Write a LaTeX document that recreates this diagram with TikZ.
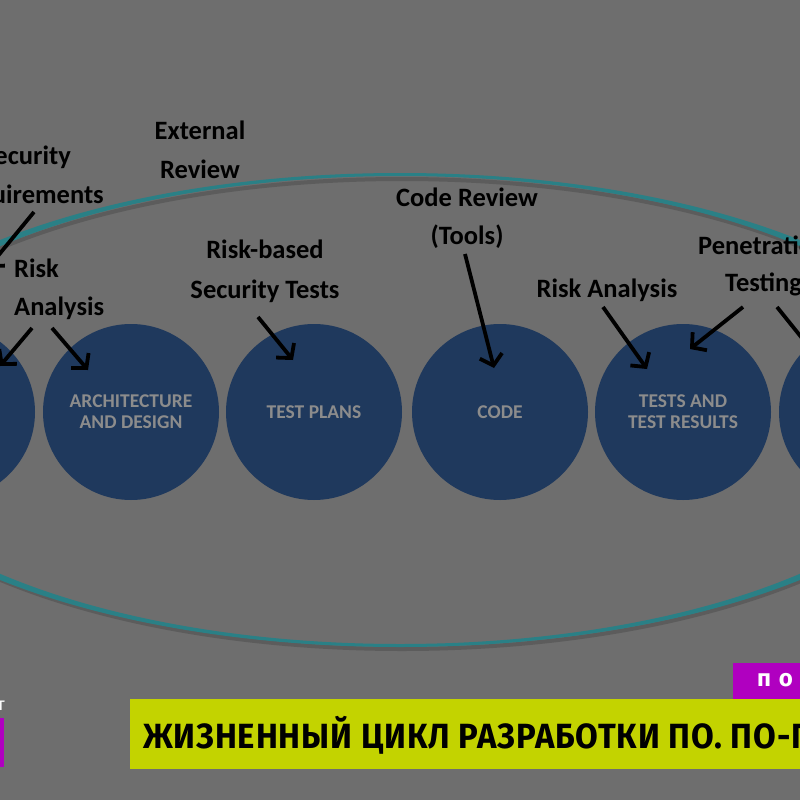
\documentclass[tikz,border=0pt]{standalone}
\usepackage{fontspec}
\setmainfont{Carlito}
\newfontfamily\bannerfont[FakeStretch=0.94,LetterSpace=2.5]{Fira Sans}
\newfontfamily\tagfont[LetterSpace=32]{Fira Sans}
\usetikzlibrary{arrows.meta}
\definecolor{bg}{RGB}{110,110,110}
\definecolor{circblue}{RGB}{31,57,93}
\definecolor{circtext}{RGB}{140,140,140}
\definecolor{teal}{RGB}{42,128,134}
\definecolor{shadowgray}{RGB}{80,80,80}
\definecolor{banneryellow}{RGB}{195,211,0}
\definecolor{tagmagenta}{RGB}{176,0,192}
\tikzset{
  circ/.style={circle, fill=circblue, minimum size=176pt, inner sep=0pt, align=center,
    text=circtext, font=\fontsize{19.5}{21}\selectfont\bfseries},
  lbl/.style={inner sep=0pt, text=black, font=\fontsize{26.5}{30}\selectfont\bfseries},
  arr/.style={line width=3.8pt, draw=black, -{Straight Barb[length=10pt,width=23pt]}},
}
\begin{document}
\begin{tikzpicture}[x=1pt,y=-1pt]
\useasboundingbox (0,0) rectangle (800,800);
\clip (0,0) rectangle (800,800);
\fill[bg] (0,0) rectangle (800,800);
% ellipse shadow and ring
\draw[shadowgray, line width=4pt, opacity=0.6] (402,414) ellipse [x radius=567, y radius=235];
\fill[teal, even odd rule] (400,410) ellipse [x radius=574, y radius=237]
                            (400,410) ellipse [x radius=560, y radius=234];
% circles
\node[circ] (c1) at (-53,412) {};
\node[circ] (c2) at (131,412) {ARCHITECTURE\\AND DESIGN};
\node[circ] (c3) at (314,412) {TEST PLANS};
\node[circ] (c4) at (500,412) {CODE};
\node[circ] (c5) at (683,412) {TESTS AND\\TEST RESULTS};
\node[circ] (c6) at (867,412) {};
% labels
\node[lbl] (ext1) at (200,130) {External};
\node[lbl] (ext2) at (200,169) {Review};
\node[lbl, anchor=east] (sec1) at (71,157) {Security};
\node[lbl, anchor=east] (sec2) at (104,196) {Requirements};
\node[lbl, anchor=west] (ra1) at (14,268) {Risk};
\node[lbl, anchor=west] (ra2) at (14,308) {Analysis};
\node[lbl] (rb1) at (265,249) {Risk-based};
\node[lbl] (rb2) at (265,291) {Security Tests};
\node[lbl] (cr1) at (467,197) {Code Review};
\node[lbl] (cr2) at (467,237) {(Tools)};
\node[lbl] (rar) at (607,290) {Risk Analysis};
\node[lbl, anchor=west] (pt1) at (698,245) {Penetration};
\node[lbl, anchor=west] (pt2) at (725,284) {Testing};
% arrow ends
\coordinate (a1s) at (34,212); \coordinate (a1e) at (-12,268);
\coordinate (a2s) at (32,328); \coordinate (a2e) at (0,366);
\coordinate (a3s) at (52,328); \coordinate (a3e) at (88,370);
\coordinate (a4s) at (258,317); \coordinate (a4e) at (293,360);
\coordinate (a5s) at (465,254); \coordinate (a5e) at (494,368);
\coordinate (a6s) at (603,307); \coordinate (a6e) at (647,369);
\coordinate (a7s) at (743,307); \coordinate (a7e) at (690,349);
\coordinate (a8s) at (777,307); \coordinate (a8e) at (818,358);
\draw[arr] (a1s) -- (a1e);
\draw[arr] (a2s) -- (a2e);
\draw[arr] (a3s) -- (a3e);
\draw[arr] (a4s) -- (a4e);
\draw[arr] (a5s) -- (a5e);
\draw[arr] (a6s) -- (a6e);
\draw[arr] (a7s) -- (a7e);
\draw[arr] (a8s) -- (a8e);
% bottom overlay
\node[fill=tagmagenta, anchor=north west, minimum width=80pt, minimum height=36pt, inner sep=0pt] (tag) at (733,663) {};
\node[anchor=west, text=white, inner sep=0pt, font=\tagfont\fontsize{24}{28}\selectfont\bfseries] (tagtxt) at (757,680) {по-};
\node[fill=banneryellow, anchor=north west, minimum width=680pt, minimum height=70pt, inner sep=0pt] (banner) at (130,699) {};
\node[anchor=base west, text=black, inner sep=0pt, font=\bannerfont\fontsize{35}{40}\selectfont\bfseries] (title) at (143,748) {ЖИЗНЕННЫЙ ЦИКЛ РАЗРАБОТКИ ПО. ПО-П};
\node[fill=tagmagenta, anchor=north west, minimum width=4pt, minimum height=49pt, inner sep=0pt] (lbar) at (0,718) {};
\node[anchor=east, text=white, inner sep=0pt, font=\bannerfont\fontsize{18}{20}\selectfont] (ltxt) at (5,706) {т};
\end{tikzpicture}
\end{document}
